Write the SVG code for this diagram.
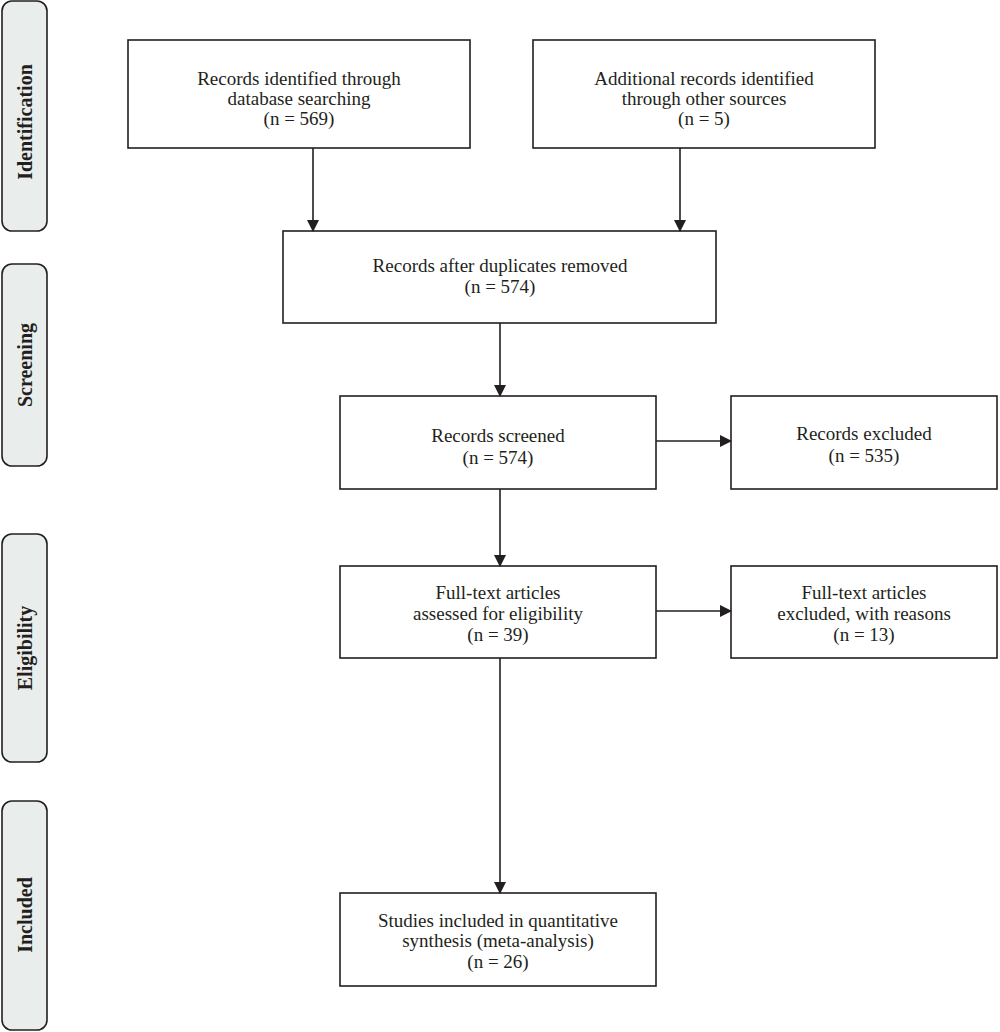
<svg xmlns="http://www.w3.org/2000/svg" width="1000" height="1032" viewBox="0 0 1000 1032">
<style>
.box{fill:#fff;stroke:#231f20;stroke-width:1.6}
.side{fill:#e9edec;stroke:#231f20;stroke-width:1.6}
.t{font-family:"Liberation Serif","DejaVu Serif",serif;font-size:19px;fill:#231f20;text-anchor:middle}
.s{font-family:"Liberation Serif","DejaVu Serif",serif;font-size:20px;font-weight:bold;fill:#231f20;text-anchor:middle}
.c{stroke:#231f20;stroke-width:1.6;fill:none;marker-end:url(#ah)}
</style>
<defs>
<marker id="ah" markerWidth="12" markerHeight="12" refX="11" refY="6" orient="auto" markerUnits="userSpaceOnUse">
<path d="M0,0 L12,6 L0,12 Z" fill="#231f20"/>
</marker>
</defs>
<rect width="1000" height="1032" fill="#fff"/>
<g id="side-identification">
<rect class="side" x="2" y="1" width="45" height="230" rx="10"/>
<text class="s" transform="translate(32,122) rotate(-90)">Identification</text>
</g>
<g id="side-screening">
<rect class="side" x="2" y="264" width="45" height="202" rx="10"/>
<text class="s" transform="translate(32,365) rotate(-90)">Screening</text>
</g>
<g id="side-eligibility">
<rect class="side" x="2" y="534" width="45" height="228" rx="10"/>
<text class="s" transform="translate(32,648) rotate(-90)">Eligibility</text>
</g>
<g id="side-included">
<rect class="side" x="2" y="801" width="45" height="229" rx="10"/>
<text class="s" transform="translate(32,915) rotate(-90)">Included</text>
</g>
<g id="n1">
<rect class="box" x="128" y="40" width="342" height="108"/>
<text class="t" x="299" y="85">Records identified through</text>
<text class="t" x="299" y="105">database searching</text>
<text class="t" x="299" y="125">(n = 569)</text>
</g>
<g id="n2">
<rect class="box" x="533" y="40" width="342" height="108"/>
<text class="t" x="704" y="85">Additional records identified</text>
<text class="t" x="704" y="105">through other sources</text>
<text class="t" x="704" y="125">(n = 5)</text>
</g>
<g id="n3">
<rect class="box" x="283" y="231" width="433" height="92"/>
<text class="t" x="500" y="272">Records after duplicates removed</text>
<text class="t" x="500" y="293">(n = 574)</text>
</g>
<g id="n4">
<rect class="box" x="340" y="396" width="316" height="93"/>
<text class="t" x="498" y="442">Records screened</text>
<text class="t" x="498" y="464">(n = 574)</text>
</g>
<g id="n5">
<rect class="box" x="731" y="396" width="266" height="93"/>
<text class="t" x="864" y="440">Records excluded</text>
<text class="t" x="864" y="462">(n = 535)</text>
</g>
<g id="n6">
<rect class="box" x="340" y="566" width="316" height="92"/>
<text class="t" x="498" y="599">Full-text articles</text>
<text class="t" x="498" y="620">assessed for eligibility</text>
<text class="t" x="498" y="641">(n = 39)</text>
</g>
<g id="n7">
<rect class="box" x="731" y="566" width="266" height="92"/>
<text class="t" x="864" y="599">Full-text articles</text>
<text class="t" x="864" y="620">excluded, with reasons</text>
<text class="t" x="864" y="641">(n = 13)</text>
</g>
<g id="n8">
<rect class="box" x="340" y="893" width="316" height="93"/>
<text class="t" x="498" y="927">Studies included in quantitative</text>
<text class="t" x="498" y="947">synthesis (meta-analysis)</text>
<text class="t" x="498" y="968">(n = 26)</text>
</g>
<g id="connectors">
<line class="c" x1="313" y1="148" x2="313" y2="231"/>
<line class="c" x1="680" y1="148" x2="680" y2="231"/>
<line class="c" x1="500" y1="323" x2="500" y2="396"/>
<line class="c" x1="656" y1="441" x2="731" y2="441"/>
<line class="c" x1="500" y1="489" x2="500" y2="566"/>
<line class="c" x1="656" y1="611" x2="731" y2="611"/>
<line class="c" x1="500" y1="658" x2="500" y2="893"/>
</g>
</svg>
